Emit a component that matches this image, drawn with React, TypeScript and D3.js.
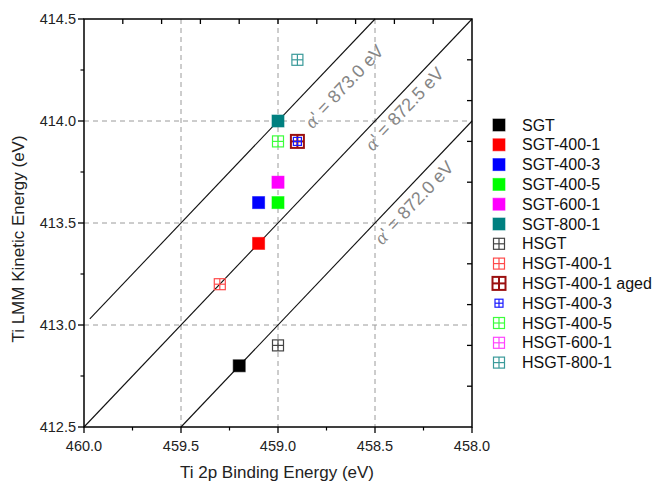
import React from 'react';
import * as d3 from 'd3';

const xDomain = [460.0, 458.0];
const yDomain = [412.5, 414.5];
const xMajor = [460.0, 459.5, 459.0, 458.5, 458.0];
const xMinor = [459.75, 459.25, 458.75, 458.25];
const yMajor = [412.5, 413.0, 413.5, 414.0, 414.5];
const yMinor = [412.75, 413.25, 413.75, 414.25];
const topTicks = [459.8, 459.6, 459.4, 459.2, 459.0, 458.8, 458.6, 458.4, 458.2];
const rightTicks = [414.3, 414.1, 413.9, 413.7, 413.5, 413.3, 413.1, 412.9, 412.7];
const gridX = [459.5, 459.0, 458.5];
const gridY = [413.0, 413.5, 414.0];

const augerParams = [873.0, 872.5, 872.0];
const augerStartBE = [459.97, 460.0, 459.5];
const augerEndBE = [458.5, 458.0, 458.0];
const labelBE = [458.66, 458.35, 458.3];
const labelKE = [414.17, 414.06, 413.6];

const seriesNames = [
  'SGT', 'SGT-400-1', 'SGT-400-3', 'SGT-400-5', 'SGT-600-1', 'SGT-800-1',
  'HSGT', 'HSGT-400-1', 'HSGT-400-1 aged', 'HSGT-400-3', 'HSGT-400-5', 'HSGT-600-1', 'HSGT-800-1',
];
const seriesBE = [459.2, 459.1, 459.1, 459.0, 459.0, 459.0, 459.0, 459.3, 458.9, 458.9, 459.0, 459.0, 458.9];
const seriesKE = [412.8, 413.4, 413.6, 413.6, 413.7, 414.0, 412.9, 413.2, 413.9, 413.9, 413.9, 413.7, 414.3];

// styles
const seriesColor = [
  '#000000', '#ff0000', '#0000ff', '#00ff00', '#ff00ff', '#008080',
  '#444444', '#ff4a4a', '#9b1010', '#1a1aff', '#3cff3c', '#ff44ff', '#3a9a9a',
];
const seriesFilled = [true, true, true, true, true, true, false, false, false, false, false, false, false];
const seriesSize = [12, 12, 12, 12, 12, 12, 11, 11, 13, 8, 11, 11, 11];
const seriesStroke = [1, 1, 1, 1, 1, 1, 1.2, 1.2, 2, 1.2, 1.2, 1.2, 1.2];
const drawOrder = [11, 6, 7, 8, 9, 10, 12, 0, 1, 2, 3, 4, 5];

const font = '"Liberation Sans", Arial, sans-serif';

function Marker({ cx, cy, i }: { cx: number; cy: number; i: number }) {
  const s = seriesSize[i];
  const c = seriesColor[i];
  const sw = seriesStroke[i];
  if (seriesFilled[i]) {
    return <rect x={cx - s / 2} y={cy - s / 2} width={s} height={s} fill={c} stroke={c} strokeOpacity={0.6} strokeWidth={sw} />;
  }
  const h = s / 2;
  return (
    <g stroke={c} strokeWidth={sw} fill="none">
      <rect x={cx - h} y={cy - h} width={s} height={s} />
      <line x1={cx - h} x2={cx + h} y1={cy} y2={cy} />
      <line x1={cx} x2={cx} y1={cy - h} y2={cy + h} />
    </g>
  );
}

export default function App() {
  const x = d3.scaleLinear().domain(xDomain).range([84, 472]);
  const y = d3.scaleLinear().domain(yDomain).range([427, 19]);
  const [x0, x1] = x.range();
  const [y0, y1] = y.range();
  const angle = (Math.atan2(y(414) - y(413), x(459) - x(460)) * 180) / Math.PI;

  return (
    <svg width={654} height={481} style={{ position: 'absolute', left: 0, top: 0, background: '#fff' }} fontFamily={font}>
      <rect width={654} height={481} fill="#fff" />
      {gridX.map((g) => (
        <line key={'gx' + g} x1={x(g)} x2={x(g)} y1={y1} y2={y0} stroke="#9a9a9a" strokeWidth={1} strokeDasharray="5,4" />
      ))}
      {gridY.map((g) => (
        <line key={'gy' + g} x1={x0} x2={x1} y1={y(g)} y2={y(g)} stroke="#9a9a9a" strokeWidth={1} strokeDasharray="5,4" />
      ))}
      {augerParams.map((a, i) => (
        <line key={'a' + a} x1={x(augerStartBE[i])} y1={y(a - augerStartBE[i])} x2={x(augerEndBE[i])} y2={y(a - augerEndBE[i])} stroke="#111" strokeWidth={1.1} />
      ))}
      {augerParams.map((a, i) => (
        <text
          key={'al' + a}
          transform={`translate(${x(labelBE[i])},${y(labelKE[i])}) rotate(${angle})`}
          textAnchor="middle"
          dominantBaseline="central"
          fontSize={18}
          fill="#858585"
        >
          <tspan fontFamily='"Liberation Serif", serif' fontStyle="italic" fontSize={19}>α</tspan>
          <tspan>{`' = ${a.toFixed(1)} eV`}</tspan>
        </text>
      ))}
      {drawOrder.map((i) => (
        <Marker key={'m' + i} cx={x(seriesBE[i])} cy={y(seriesKE[i])} i={i} />
      ))}
      <rect x={x0} y={y1} width={x1 - x0} height={y0 - y1} fill="none" stroke="#000" strokeWidth={1.5} />
      {xMajor.map((t) => (
        <g key={'bx' + t}>
          <line x1={x(t)} x2={x(t)} y1={y0} y2={y0 + 6} stroke="#000" strokeWidth={1.3} />
          <text x={x(t)} y={y0 + 19} textAnchor="middle" dominantBaseline="central" fontSize={14.5} fill="#222">{t.toFixed(1)}</text>
        </g>
      ))}
      {xMinor.map((t) => (
        <line key={'bm' + t} x1={x(t)} x2={x(t)} y1={y0} y2={y0 + 3.5} stroke="#000" strokeWidth={1.2} />
      ))}
      {yMajor.map((t) => (
        <g key={'ly' + t}>
          <line x1={x0 - 6} x2={x0} y1={y(t)} y2={y(t)} stroke="#000" strokeWidth={1.3} />
          <text x={x0 - 8} y={y(t)} textAnchor="end" dominantBaseline="central" fontSize={14.5} fill="#222">{t.toFixed(1)}</text>
        </g>
      ))}
      {yMinor.map((t) => (
        <line key={'lm' + t} x1={x0 - 3.5} x2={x0} y1={y(t)} y2={y(t)} stroke="#000" strokeWidth={1.2} />
      ))}
      {topTicks.map((t) => (
        <line key={'tt' + t} x1={x(t)} x2={x(t)} y1={y1} y2={y1 + 5} stroke="#000" strokeWidth={1.3} />
      ))}
      {rightTicks.map((t) => (
        <line key={'rt' + t} x1={x1 - 5} x2={x1} y1={y(t)} y2={y(t)} stroke="#000" strokeWidth={1.3} />
      ))}
      <text x={(x0 + x1) / 2 - 1} y={478} textAnchor="middle" fontSize={17} fill="#222">Ti 2p Binding Energy (eV)</text>
      <text transform={`translate(18.5,${(y0 + y1) / 2 + 16}) rotate(-90)`} textAnchor="middle" dominantBaseline="central" fontSize={17} fill="#222">
        Ti LMM Kinetic Energy (eV)
      </text>
      {seriesNames.map((n, i) => {
        const ly = 125 + i * 19.8;
        return (
          <g key={'lg' + i}>
            <Marker cx={499} cy={ly} i={i} />
            <text x={522} y={ly} dominantBaseline="central" fontSize={16} fill="#111">{n}</text>
          </g>
        );
      })}
    </svg>
  );
}
